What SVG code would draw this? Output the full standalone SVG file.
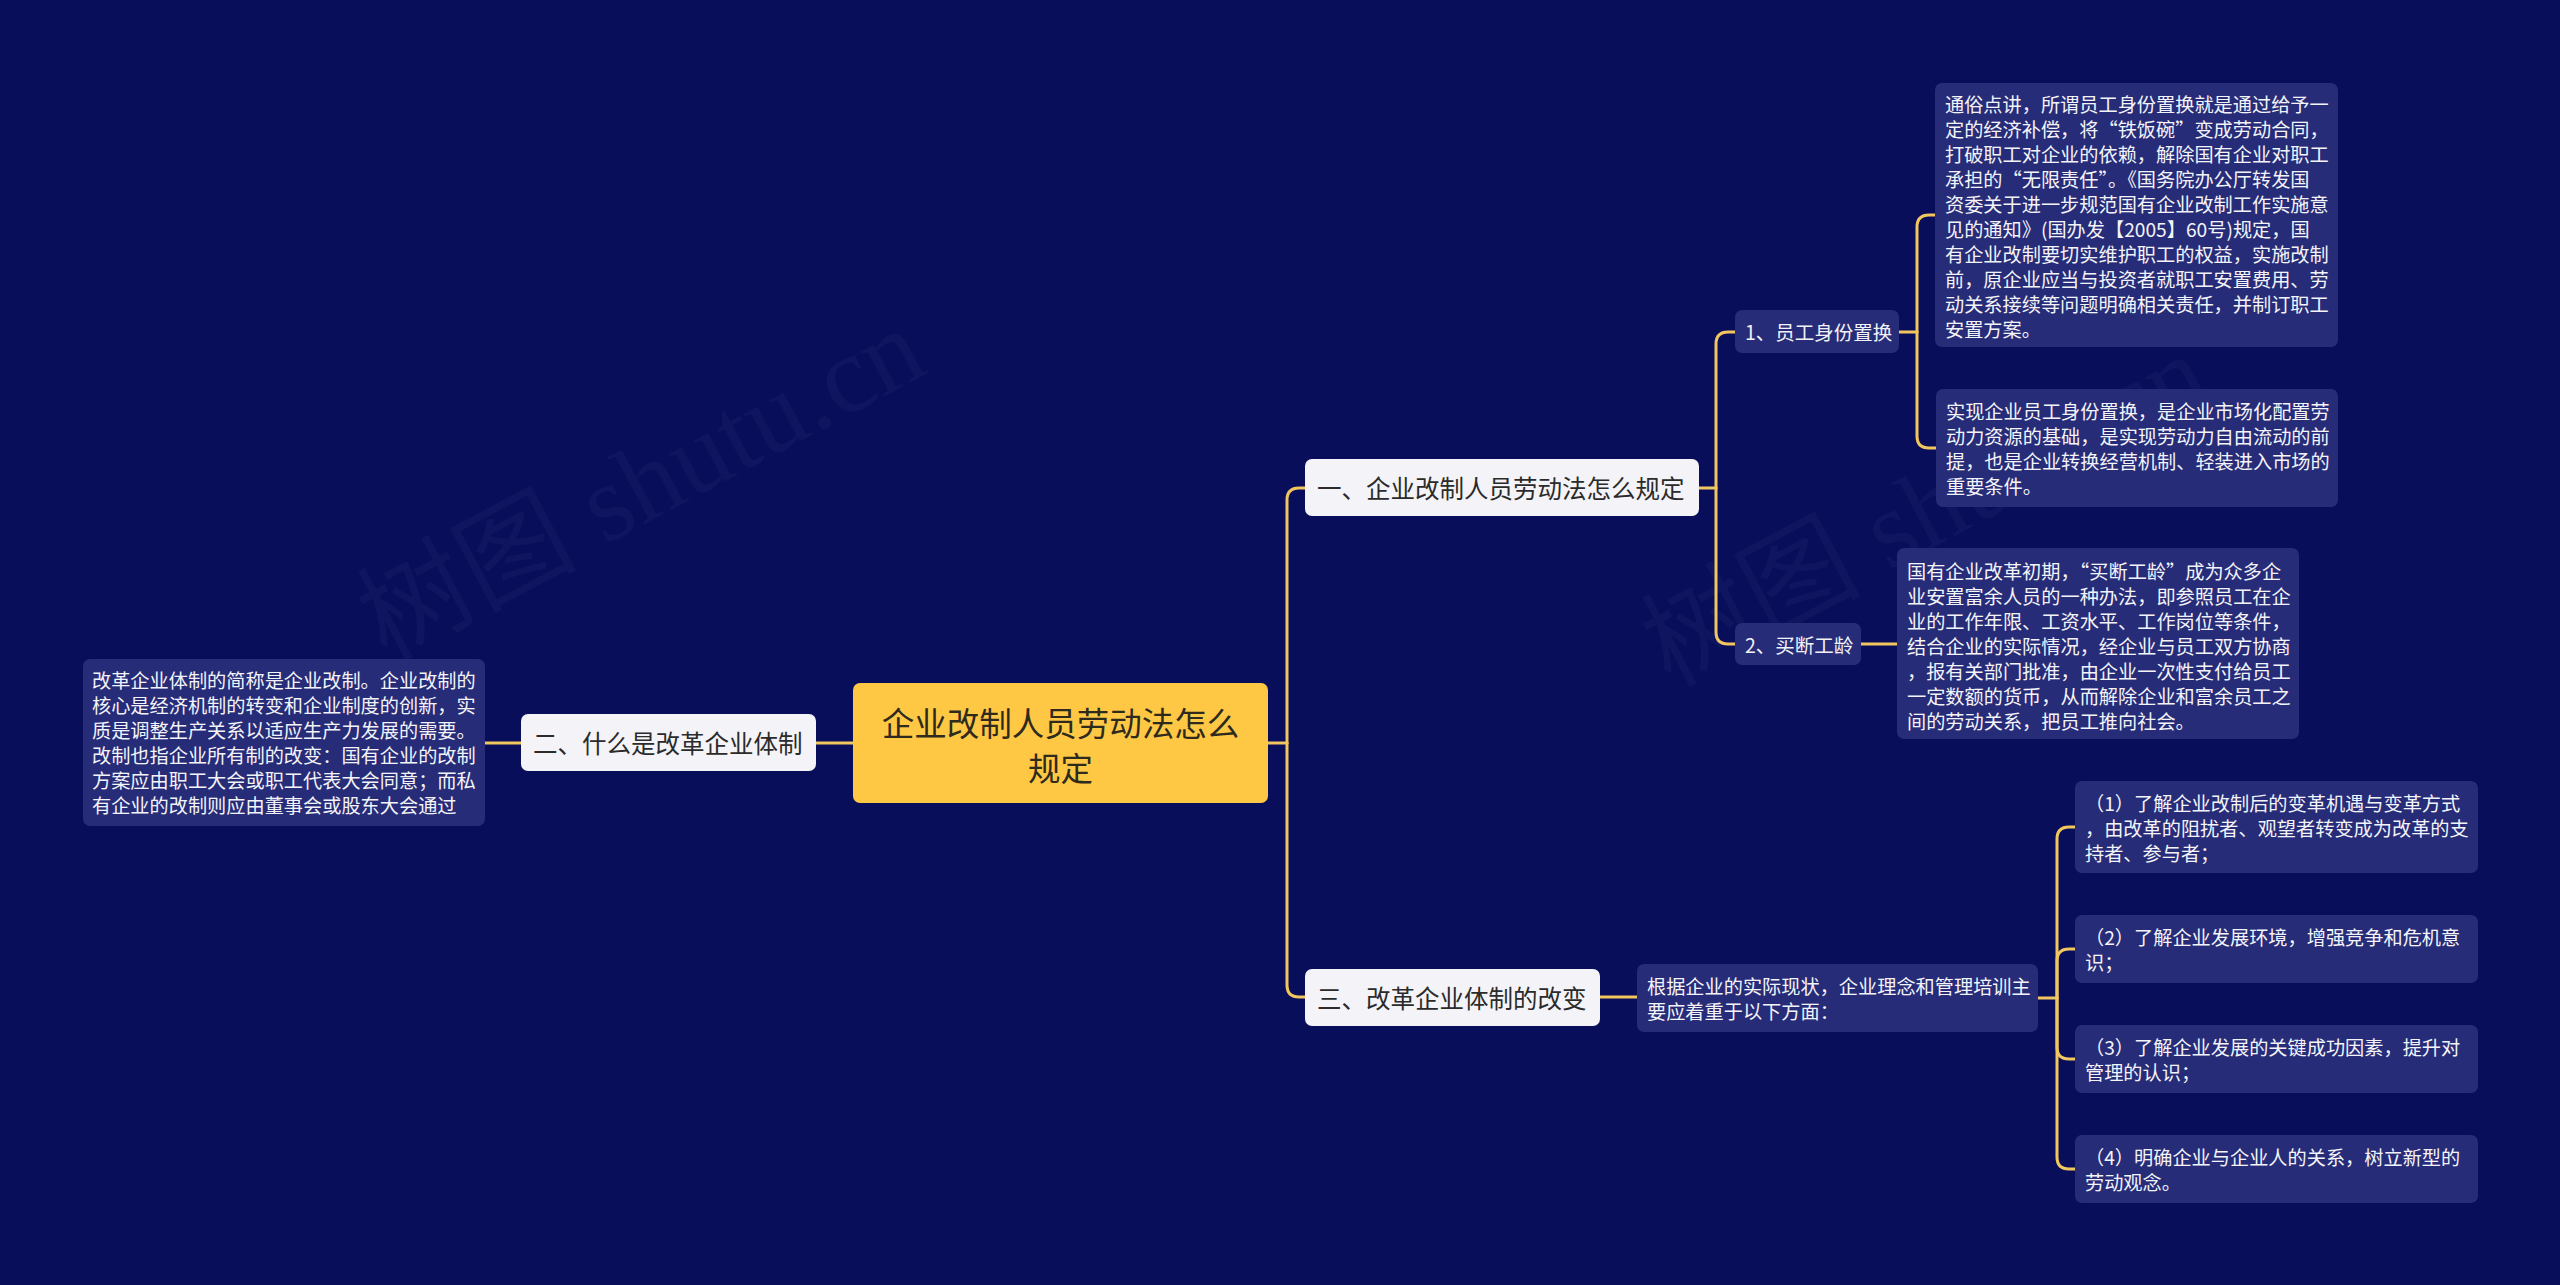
<svg xmlns="http://www.w3.org/2000/svg" width="2560" height="1285" viewBox="0 0 2560 1285">
<style>
.bg{fill:#080E5A}
.wm{fill:#ffffff;fill-opacity:0.032;font-family:"Liberation Serif","Noto Sans CJK SC",serif;font-size:110px}
.root{fill:#FFC844}
.rootT{fill:#2E2A1E;font-family:"Noto Sans CJK SC","Noto Sans",sans-serif;font-size:32.5px}
.br{fill:#F4F4F8}
.brT{fill:#2B2B2B;font-family:"Noto Sans CJK SC","Noto Sans",sans-serif;font-size:24.5px}
.sub{fill:#272C78}
.subT{fill:#F2F2F6;font-family:"Noto Sans CJK SC","Noto Sans",sans-serif;font-size:19.5px}
.leaf{fill:#272C78}
.leafT{fill:#F4F4F8;font-family:"Noto Sans CJK SC","Noto Sans",sans-serif;font-size:19.2px}
.c{fill:none;stroke:#F2C65E;stroke-width:3;stroke-linecap:round}
text{dominant-baseline:central}
</style>
<rect class="bg" x="0" y="0" width="2560" height="1285"/>
<g id="watermarks">
<text class="wm" x="641" y="484" text-anchor="middle" transform="rotate(-28 641 484)">树图 shutu.cn</text>
<text class="wm" x="1925" y="510" text-anchor="middle" transform="rotate(-28 1925 510)">树图 shutu.cn</text>
</g>
<g id="connectors">
<path class="c" d="M816,743 H853"/>
<path class="c" d="M485,743 H521"/>
<path class="c" d="M1268,743 H1287"/>
<path class="c" d="M1287,743 V500 Q1287,488 1299,488 H1305"/>
<path class="c" d="M1287,743 V985 Q1287,997 1299,997 H1305"/>
<path class="c" d="M1699,488 H1716"/>
<path class="c" d="M1716,488 V344 Q1716,332 1728,332 H1735"/>
<path class="c" d="M1716,488 V632 Q1716,644 1728,644 H1735"/>
<path class="c" d="M1899,332 H1917"/>
<path class="c" d="M1917,332 V227 Q1917,215 1929,215 H1935"/>
<path class="c" d="M1917,332 V436 Q1917,448 1929,448 H1936"/>
<path class="c" d="M1861,644 H1897"/>
<path class="c" d="M1600,997 H1637"/>
<path class="c" d="M2038,998 H2057"/>
<path class="c" d="M2057,998 V839 Q2057,827 2069,827 H2075"/>
<path class="c" d="M2057,998 V961 Q2057,949 2069,949 H2075"/>
<path class="c" d="M2057,998 V1047 Q2057,1059 2069,1059 H2075"/>
<path class="c" d="M2057,998 V1157 Q2057,1169 2069,1169 H2075"/>
</g>
<g id="root">
<rect class="root" x="853" y="683" width="415" height="120" rx="7"/>
<text class="rootT" x="1060.5" y="721" text-anchor="middle">企业改制人员劳动法怎么</text>
<text class="rootT" x="1060.5" y="766" text-anchor="middle">规定</text>
</g>
<g id="branch1">
<rect class="br" x="1305" y="459" width="394" height="57" rx="7"/>
<text class="brT" x="1317" y="487.5">一、企业改制人员劳动法怎么规定</text>
</g>
<g id="branch2">
<rect class="br" x="521" y="714" width="295" height="57" rx="7"/>
<text class="brT" x="533" y="742.5">二、什么是改革企业体制</text>
</g>
<g id="branch3">
<rect class="br" x="1305" y="969" width="295" height="57" rx="7"/>
<text class="brT" x="1317" y="997.5">三、改革企业体制的改变</text>
</g>
<g id="sub1">
<rect class="sub" x="1735" y="310" width="164" height="43" rx="7"/>
<text class="subT" x="1745" y="331.5">1、员工身份置换</text>
</g>
<g id="sub2">
<rect class="sub" x="1735" y="623" width="126" height="42" rx="7"/>
<text class="subT" x="1745" y="644">2、买断工龄</text>
</g>
<g id="leaf1">
<rect class="leaf" x="1935" y="83" width="403" height="264" rx="7"/>
<text class="leafT" x="1945" y="104">通俗点讲，所谓员工身份置换就是通过给予一</text>
<text class="leafT" x="1945" y="129">定的经济补偿，将“铁饭碗”变成劳动合同，</text>
<text class="leafT" x="1945" y="154">打破职工对企业的依赖，解除国有企业对职工</text>
<text class="leafT" x="1945" y="179">承担的“无限责任”。《国务院办公厅转发国</text>
<text class="leafT" x="1945" y="204">资委关于进一步规范国有企业改制工作实施意</text>
<text class="leafT" x="1945" y="229">见的通知》(国办发【2005】60号)规定，国</text>
<text class="leafT" x="1945" y="254">有企业改制要切实维护职工的权益，实施改制</text>
<text class="leafT" x="1945" y="279">前，原企业应当与投资者就职工安置费用、劳</text>
<text class="leafT" x="1945" y="304">动关系接续等问题明确相关责任，并制订职工</text>
<text class="leafT" x="1945" y="329">安置方案。</text>
</g>
<g id="leaf2">
<rect class="leaf" x="1936" y="389" width="402" height="118" rx="7"/>
<text class="leafT" x="1946" y="411">实现企业员工身份置换，是企业市场化配置劳</text>
<text class="leafT" x="1946" y="436">动力资源的基础，是实现劳动力自由流动的前</text>
<text class="leafT" x="1946" y="461">提，也是企业转换经营机制、轻装进入市场的</text>
<text class="leafT" x="1946" y="486">重要条件。</text>
</g>
<g id="leaf3">
<rect class="leaf" x="1897" y="548" width="402" height="191" rx="7"/>
<text class="leafT" x="1907" y="571">国有企业改革初期，“买断工龄”成为众多企</text>
<text class="leafT" x="1907" y="596">业安置富余人员的一种办法，即参照员工在企</text>
<text class="leafT" x="1907" y="621">业的工作年限、工资水平、工作岗位等条件，</text>
<text class="leafT" x="1907" y="646">结合企业的实际情况，经企业与员工双方协商</text>
<text class="leafT" x="1907" y="671">，报有关部门批准，由企业一次性支付给员工</text>
<text class="leafT" x="1907" y="696">一定数额的货币，从而解除企业和富余员工之</text>
<text class="leafT" x="1907" y="721">间的劳动关系，把员工推向社会。</text>
</g>
<g id="leafLeft">
<rect class="leaf" x="83" y="659" width="402" height="167" rx="7"/>
<text class="leafT" x="92" y="680">改革企业体制的简称是企业改制。企业改制的</text>
<text class="leafT" x="92" y="705">核心是经济机制的转变和企业制度的创新，实</text>
<text class="leafT" x="92" y="730">质是调整生产关系以适应生产力发展的需要。</text>
<text class="leafT" x="92" y="755">改制也指企业所有制的改变：国有企业的改制</text>
<text class="leafT" x="92" y="780">方案应由职工大会或职工代表大会同意；而私</text>
<text class="leafT" x="92" y="805">有企业的改制则应由董事会或股东大会通过</text>
</g>
<g id="leaf4">
<rect class="leaf" x="1637" y="964" width="401" height="68" rx="7"/>
<text class="leafT" x="1647" y="986">根据企业的实际现状，企业理念和管理培训主</text>
<text class="leafT" x="1647" y="1011">要应着重于以下方面：</text>
</g>
<g id="child1">
<rect class="leaf" x="2075" y="781" width="403" height="92" rx="7"/>
<text class="leafT" x="2085" y="803">（1）了解企业改制后的变革机遇与变革方式</text>
<text class="leafT" x="2085" y="828">，由改革的阻扰者、观望者转变成为改革的支</text>
<text class="leafT" x="2085" y="853">持者、参与者；</text>
</g>
<g id="child2">
<rect class="leaf" x="2075" y="915" width="403" height="68" rx="7"/>
<text class="leafT" x="2085" y="937">（2）了解企业发展环境，增强竞争和危机意</text>
<text class="leafT" x="2085" y="962">识；</text>
</g>
<g id="child3">
<rect class="leaf" x="2075" y="1025" width="403" height="68" rx="7"/>
<text class="leafT" x="2085" y="1047">（3）了解企业发展的关键成功因素，提升对</text>
<text class="leafT" x="2085" y="1072">管理的认识；</text>
</g>
<g id="child4">
<rect class="leaf" x="2075" y="1135" width="403" height="68" rx="7"/>
<text class="leafT" x="2085" y="1157">（4）明确企业与企业人的关系，树立新型的</text>
<text class="leafT" x="2085" y="1182">劳动观念。</text>
</g>
</svg>
